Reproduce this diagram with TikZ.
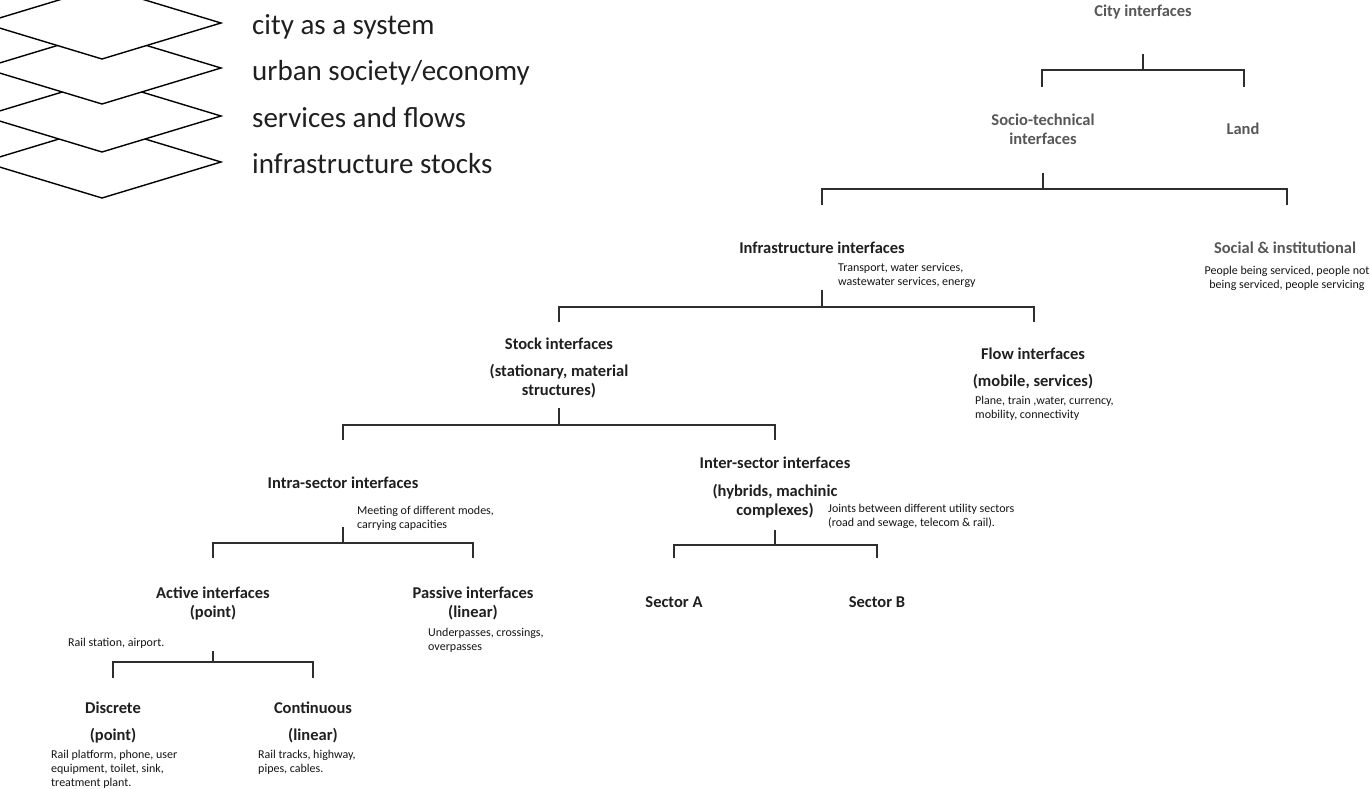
\documentclass[tikz,border=0pt]{standalone}
\usepackage{fontspec}
\setmainfont{Carlito}
\begin{document}
\begin{tikzpicture}[x=1pt,y=-1pt,
  conn/.style={line width=2pt, draw=black!82, line join=miter},
  lyr/.style={draw=black, line width=1.4pt, fill=white, line join=miter},
  title/.style={font=\fontsize{16.5}{19}\selectfont\bfseries, align=center, inner sep=0pt, anchor=north, text=black!88},
  gtitle/.style={title, text=black!66},
  note/.style={font=\fontsize{12}{14}\selectfont, align=left, inner sep=0pt, anchor=north west, text=black!92},
  cnote/.style={note, align=center, anchor=north},
  layer/.style={font=\fontsize{29}{34}\selectfont, anchor=base west, inner sep=0pt, text=black!88}]
\useasboundingbox (0,0) rectangle (1370,789);

% stacked layers
\foreach \yy in {162,116,68,23}
  \draw[lyr] (-17,\yy) -- (102,\yy-36) -- (221,\yy) -- (102,\yy+36) -- cycle;
\node[layer] (l1) at (252,34.5) {city as a system};
\node[layer] (l2) at (252,80.5) {urban society/economy};
\node[layer] (l3) at (252,127.5) {services and flows};
\node[layer] (l4) at (252,173.5) {infrastructure stocks};

% tree labels
\node[gtitle] (city) at (1143,5) {City interfaces};
\node[gtitle] (socio) at (1043,114) {Socio-technical\\interfaces};
\node[gtitle] (land) at (1243,123) {Land};
\node[gtitle] (social) at (1285,242) {Social \& institutional};
\node[cnote] (socialn) at (1287,265.5) {People being serviced, people not\\being serviced, people servicing};
\node[title] (infra) at (822,242) {Infrastructure interfaces};
\node[note] (infran) at (838,263.5) {Transport, water services,\\wastewater services, energy};
\node[title] (stock) at (559,338) {Stock interfaces\\[8pt](stationary, material\\structures)};
\node[title] (flow) at (1033,348) {Flow interfaces\\[8pt](mobile, services)};
\node[note] (flown) at (975,395.5) {Plane, train ,water, currency,\\mobility, connectivity};
\node[title] (intra) at (343,477) {Intra-sector interfaces};
\node[note] (intran) at (357,505.5) {Meeting of different modes,\\carrying capacities};
\node[title] (inter) at (775,457) {Inter-sector interfaces\\[9pt](hybrids, machinic\\complexes)};
\node[note] (intern) at (828,503.5) {Joints between different utility sectors\\(road and sewage, telecom \& rail).};
\node[title] (active) at (213,587) {Active interfaces\\(point)};
\node[note] (activen) at (68,637.5) {Rail station, airport.};
\node[title] (passive) at (473,587) {Passive interfaces\\(linear)};
\node[note] (passiven) at (428,627.5) {Underpasses, crossings,\\overpasses};
\node[title] (secta) at (674,596) {Sector A};
\node[title] (sectb) at (877,596) {Sector B};
\node[title] (disc) at (113,702) {Discrete\\[8pt](point)};
\node[note] (discn) at (51,749.5) {Rail platform, phone, user\\equipment, toilet, sink,\\treatment plant.};
\node[title] (cont) at (313,702) {Continuous\\[8pt](linear)};
\node[note] (contn) at (258,749.5) {Rail tracks, highway,\\pipes, cables.};

% bracket connectors: stem top (s), leg ends (a = left, b = right)
\coordinate (s1) at (1143,54);  \coordinate (a1) at (1042,87);  \coordinate (b1) at (1244,87);
\coordinate (s2) at (1043,173); \coordinate (a2) at (822,205);  \coordinate (b2) at (1287,205);
\coordinate (s3) at (822,290);  \coordinate (a3) at (559,322);  \coordinate (b3) at (1034,322);
\coordinate (s4) at (559,408);  \coordinate (a4) at (343,440);  \coordinate (b4) at (775,440);
\coordinate (s5) at (343,527);  \coordinate (a5) at (213,558);  \coordinate (b5) at (473,558);
\coordinate (s6) at (213,651);  \coordinate (a6) at (113,678);  \coordinate (b6) at (313,678);
\coordinate (s7) at (775,530);  \coordinate (a7) at (674,558);  \coordinate (b7) at (877,558);

\draw[conn] (s1) -- (s1 |- 0,70);   \draw[conn] (a1) |- (b1 |- 0,70) -- (b1);
\draw[conn] (s2) -- (s2 |- 0,189);  \draw[conn] (a2) |- (b2 |- 0,189) -- (b2);
\draw[conn] (s3) -- (s3 |- 0,307);  \draw[conn] (a3) |- (b3 |- 0,307) -- (b3);
\draw[conn] (s4) -- (s4 |- 0,425);  \draw[conn] (a4) |- (b4 |- 0,425) -- (b4);
\draw[conn] (s5) -- (s5 |- 0,543);  \draw[conn] (a5) |- (b5 |- 0,543) -- (b5);
\draw[conn] (s6) -- (s6 |- 0,662);  \draw[conn] (a6) |- (b6 |- 0,662) -- (b6);
\draw[conn] (s7) -- (s7 |- 0,545);  \draw[conn] (a7) |- (b7 |- 0,545) -- (b7);
\end{tikzpicture}
\end{document}
